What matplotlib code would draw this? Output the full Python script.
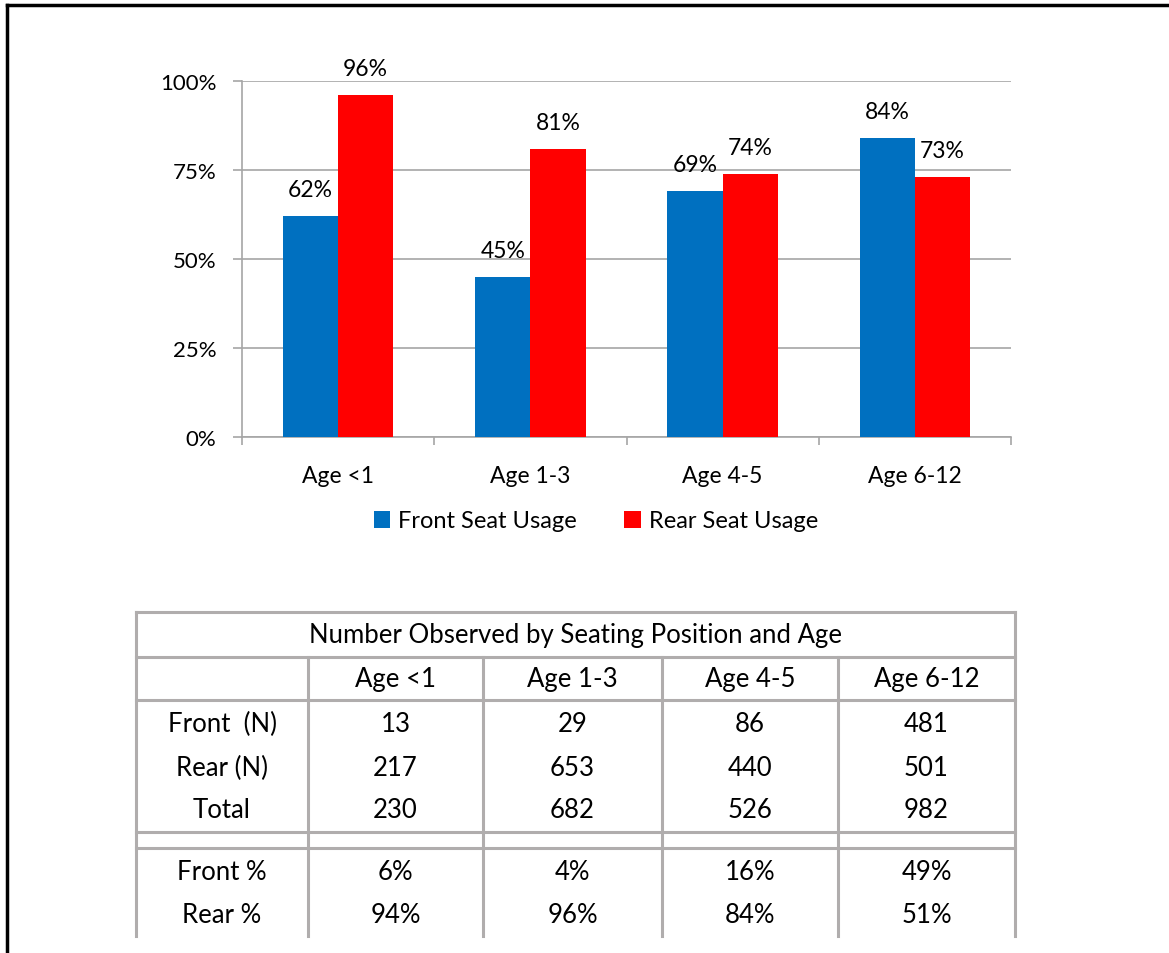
import numpy as np
import matplotlib
matplotlib.use("Agg")
import matplotlib.pyplot as plt
from matplotlib.lines import Line2D

plt.rcParams['font.family'] = ['Lato', 'DejaVu Sans']

# chart data
ages = ['Age <1', 'Age 1-3', 'Age 4-5', 'Age 6-12']
front_usage = [62, 45, 69, 84]
rear_usage = [96, 81, 74, 73]

# table data
row_names = ['Front  (N)', 'Rear (N)', 'Total']
front_n = [13, 29, 86, 481]
rear_n = [217, 653, 440, 501]
total_n = [230, 682, 526, 982]
front_pct = [6, 4, 16, 49]
rear_pct = [94, 96, 84, 51]

W, H = 1169, 954
BLUE = '#0070C0'
RED = '#FF0000'
GRID = '#A6A6A6'
TLINE = '#B0ADAD'

fig = plt.figure(figsize=(W / 100, H / 100), dpi=100)


def fx(x):
    return x / W


def fy(y):
    return 1 - y / H


def hline(y, x0, x1, color=TLINE, lw=2.2):
    fig.add_artist(Line2D([fx(x0), fx(x1)], [fy(y), fy(y)], color=color, lw=lw))


def vline(x, y0, y1, color=TLINE, lw=2.2):
    fig.add_artist(Line2D([fx(x), fx(x)], [fy(y0), fy(y1)], color=color, lw=lw))


# outer frame (only top and left visible)
hline(6, 7, W, color='black', lw=2.5)
vline(7, 6, H, color='black', lw=2.5)

ax = fig.add_axes([fx(242), fy(438), (1011 - 242) / W, (438 - 82) / H])
x = np.arange(len(ages))
w = 0.287
b1 = ax.bar(x - w / 2, front_usage, w, color=BLUE, label='Front Seat Usage', zorder=3)
b2 = ax.bar(x + w / 2, rear_usage, w, color=RED, label='Rear Seat Usage', zorder=3)

for bars, vals in ((b1, front_usage), (b2, rear_usage)):
    for r, v in zip(bars, vals):
        ax.annotate(f'{v}%', (r.get_x() + r.get_width() / 2, v), xytext=(0, 19),
                    textcoords='offset points', ha='center', va='center', fontsize=16.5)

ax.set_xlim(-0.5, 3.5)
ax.set_ylim(0, 100)
ax.set_yticks([0, 25, 50, 75, 100])
ax.set_yticklabels(['0%', '25%', '50%', '75%', '100%'])
ax.set_xticks(x)
ax.set_xticklabels(ages)
ax.set_xticks(np.arange(-0.5, 4, 1), minor=True)
ax.tick_params(axis='x', which='major', length=0, pad=20, labelsize=16.5)
ax.tick_params(axis='x', which='minor', length=6, color=GRID, width=1.2)
ax.tick_params(axis='y', length=6.5, color=GRID, width=1.2, pad=12, labelsize=16)
ax.yaxis.grid(True, color=GRID, lw=1.2, zorder=0)
for s in ('top', 'right'):
    ax.spines[s].set_visible(False)
for s in ('left', 'bottom'):
    ax.spines[s].set_color(GRID)
    ax.spines[s].set_linewidth(1.2)

ax.legend(loc='center', bbox_to_anchor=(fx(596), fy(522)), bbox_transform=fig.transFigure,
          ncol=2, frameon=False, fontsize=17, handlelength=0.7, handleheight=0.7,
          handletextpad=0.35, columnspacing=2.0)

# table
left, right = 136, 1015
cols = [136, 308, 483, 662, 838, 1015]
top, bottom = 613, 937
hline(top, left, right)
for yy in (658, 701, 833, 849):
    hline(yy, left, right)
vline(left, top, bottom)
vline(right, top, bottom)
for cx in cols[1:-1]:
    vline(cx, 658, bottom)

FS = 18.5
fig.text(fx((left + right) / 2), fy(636), 'Number Observed by Seating Position and Age',
         ha='center', va='center', fontsize=FS)
centers = [(cols[i] + cols[i + 1]) / 2 for i in range(len(cols) - 1)]
for c, a in zip(centers[1:], ages):
    fig.text(fx(c), fy(680), a, ha='center', va='center', fontsize=FS)

rows = [front_n, rear_n, total_n]
for ry, name, vals in zip((724, 768, 811), row_names, rows):
    fig.text(fx(centers[0]), fy(ry), name, ha='center', va='center', fontsize=FS)
    for c, v in zip(centers[1:], vals):
        fig.text(fx(c), fy(ry), str(v), ha='center', va='center', fontsize=FS)

for ry, name, vals in zip((873, 916), ['Front %', 'Rear %'], [front_pct, rear_pct]):
    fig.text(fx(centers[0]), fy(ry), name, ha='center', va='center', fontsize=FS)
    for c, v in zip(centers[1:], vals):
        fig.text(fx(c), fy(ry), f'{v}%', ha='center', va='center', fontsize=FS)

fig.savefig('out.png', dpi=100, facecolor='white')
